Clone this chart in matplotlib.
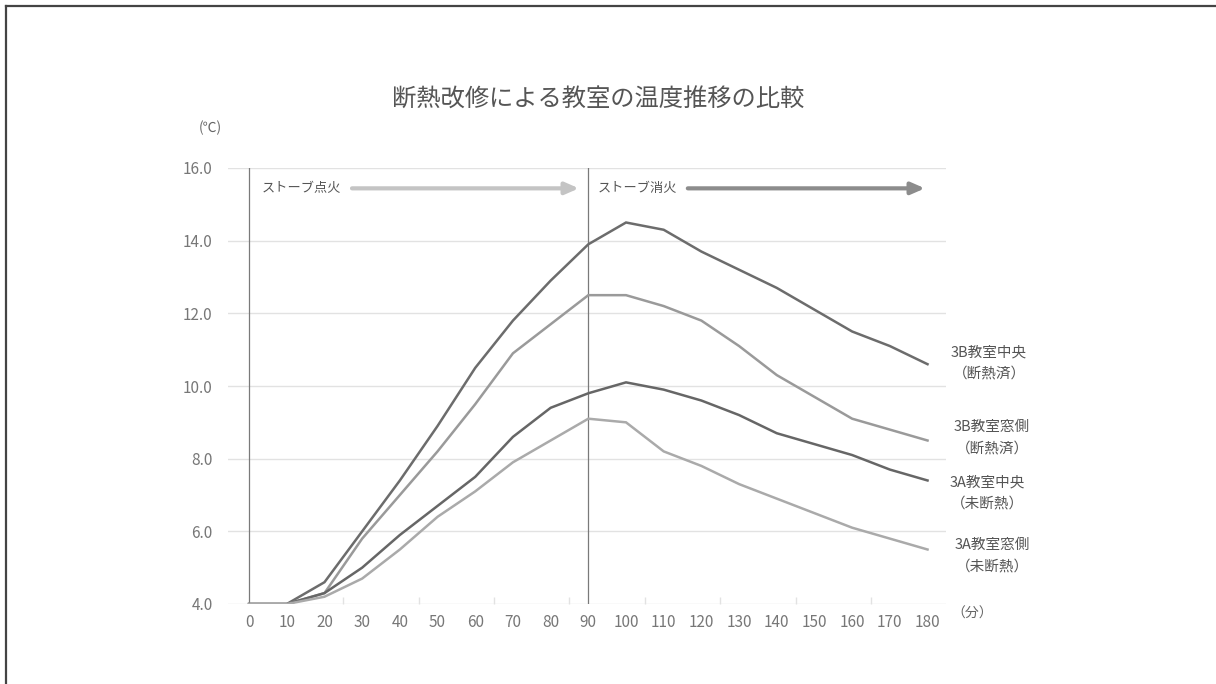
import matplotlib.pyplot as plt
from matplotlib.lines import Line2D
import numpy as np

plt.rcParams['font.family'] = ['Noto Sans CJK JP', 'DejaVu Sans']

# 経過時間（分）
minutes = np.arange(0, 181, 10)

# 各教室の温度（℃）
temp_3b_center = [4.0, 4.0, 4.6, 6.0, 7.4, 8.9, 10.5, 11.8, 12.9, 13.9,
                  14.5, 14.3, 13.7, 13.2, 12.7, 12.1, 11.5, 11.1, 10.6]
temp_3b_window = [4.0, 4.0, 4.3, 5.8, 7.0, 8.2, 9.5, 10.9, 11.7, 12.5,
                  12.5, 12.2, 11.8, 11.1, 10.3, 9.7, 9.1, 8.8, 8.5]
temp_3a_center = [4.0, 4.0, 4.3, 5.0, 5.9, 6.7, 7.5, 8.6, 9.4, 9.8,
                  10.1, 9.9, 9.6, 9.2, 8.7, 8.4, 8.1, 7.7, 7.4]
temp_3a_window = [4.0, 4.0, 4.2, 4.7, 5.5, 6.4, 7.1, 7.9, 8.5, 9.1,
                  9.0, 8.2, 7.8, 7.3, 6.9, 6.5, 6.1, 5.8, 5.5]

series = [temp_3b_center, temp_3b_window, temp_3a_center, temp_3a_window]
series_names = ['3B教室中央', '3B教室窓側', '3A教室中央', '3A教室窓側']
series_notes = ['（断熱済）', '（断熱済）', '（未断熱）', '（未断熱）']
colors = ['#6c6c6c', '#9a9a9a', '#666666', '#aaaaaa']

y_ticks = np.arange(4.0, 16.1, 2.0)

W, H = 1216, 684
fig = plt.figure(figsize=(W / 100, H / 100), dpi=100)
ax = fig.add_axes([228 / W, 80 / H, (946 - 228) / W, (604 - 168) / H])

def fpx(x, y):
    # ピクセル位置 -> figure座標
    return x / W, 1 - y / H

for vals, c in zip(series, colors):
    ax.plot(minutes, vals, color=c, lw=1.8, solid_joinstyle='miter', zorder=3)

# 点火・消火の縦線
for xv in (0, 90):
    ax.axvline(xv, color='#7a7a7a', lw=0.9, zorder=2)

ax.set_xlim(-5.6, 184.9)
ax.set_ylim(4, 16)
ax.set_xticks(minutes)
ax.set_xticklabels([str(m) for m in minutes])
ax.set_yticks(y_ticks)
ax.set_yticklabels([f'{v:.1f}' for v in y_ticks])
ax.set_xticks(np.arange(25, 170, 20), minor=True)
ax.tick_params(axis='both', which='major', length=0, labelsize=11,
               labelcolor='#777777')
ax.tick_params(axis='y', pad=11)
ax.tick_params(axis='x', pad=7)
ax.tick_params(axis='x', which='minor', direction='in', length=5,
               color='#e2e2e2', width=1)
ax.grid(axis='y', color='#e2e2e2', lw=1)
ax.set_axisbelow(True)
for s in ax.spines.values():
    s.set_visible(False)

# ストーブの矢印
arrow_style = '-|>,head_length=0.8,head_width=0.35'
ax.annotate('', xy=(87.5, 15.44), xytext=(27.3, 15.44),
            arrowprops=dict(arrowstyle=arrow_style,
                            color='#c4c4c4', lw=3.0, shrinkA=0, shrinkB=0))
ax.text(3.4, 15.44, 'ストーブ点火', fontsize=9.5, color='#555555',
        va='center', ha='left')
ax.annotate('', xy=(179.3, 15.44), xytext=(116.4, 15.44),
            arrowprops=dict(arrowstyle=arrow_style,
                            color='#8c8c8c', lw=3.0, shrinkA=0, shrinkB=0))
ax.text(92.6, 15.44, 'ストーブ消火', fontsize=9.5, color='#555555',
        va='center', ha='left')

# 系列ラベル（右側）
label_pos = [(989, 352, 374), (992, 427, 449), (987, 482, 504), (992, 545, 567)]
for name, note, (lx, y1, y2) in zip(series_names, series_notes, label_pos):
    fig.text(*fpx(lx, y1), name, fontsize=10.5, color='#555555',
             ha='center', va='center')
    fig.text(*fpx(lx, y2), note, fontsize=10.5, color='#555555',
             ha='center', va='center')

fig.text(*fpx(598, 100), '断熱改修による教室の温度推移の比較', fontsize=17.5,
         color='#555555', ha='center', va='center')
fig.text(*fpx(210, 128), '(℃)', fontsize=10, color='#666666',
         ha='center', va='center')
fig.text(*fpx(972, 614), '（分）', fontsize=10, color='#666666',
         ha='center', va='center')

# 外枠（上と左のみ）
fig.add_artist(Line2D([6 / W, 1], [1 - 6 / H, 1 - 6 / H],
                      transform=fig.transFigure, color='#444444', lw=1.6))
fig.add_artist(Line2D([6 / W, 6 / W], [1 - 6 / H, 0],
                      transform=fig.transFigure, color='#444444', lw=1.6))

fig.savefig('out.png', dpi=100, facecolor='white')
